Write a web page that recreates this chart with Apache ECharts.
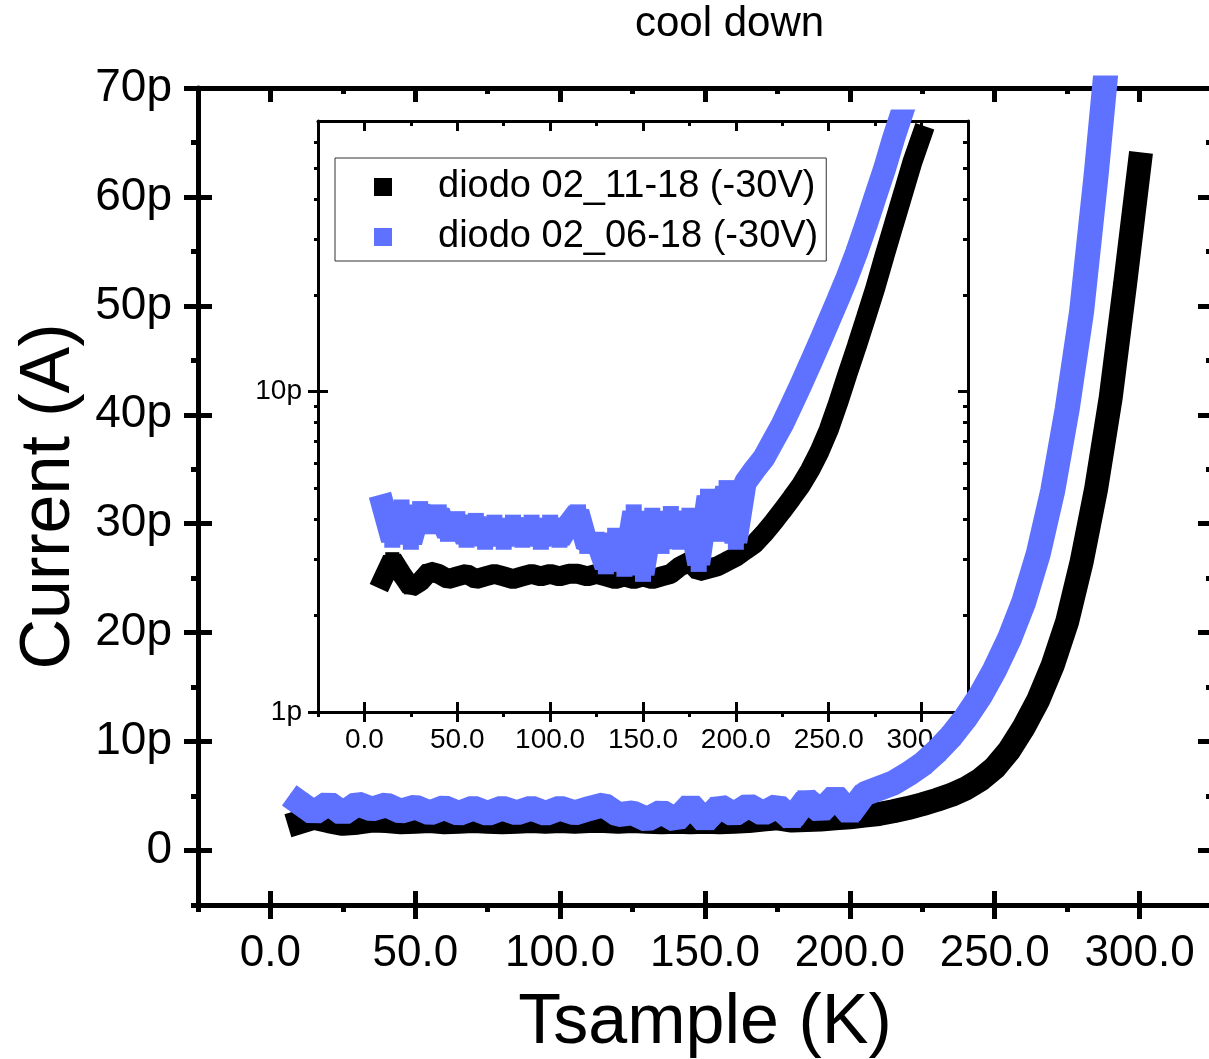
<!DOCTYPE html>
<html>
<head>
	<meta charset="utf-8">
</head>
<body style="margin: 0">
<div id="container" style="width: 1209px; height: 1059px"></div>
<script type="text/javascript" src="https://cdn.jsdelivr.net/npm/echarts@6/dist/echarts.min.js"></script>
<script type="text/javascript">
    // temperature (K) and current (pA)
    var tempK = [10, 15, 20, 25, 30, 35, 40, 45, 50, 55, 60, 65, 70, 75, 80, 85, 90, 95, 100,
        105, 110, 115, 120, 125, 130, 135, 140, 145, 150, 155, 160, 165, 170, 175, 180, 185, 190, 195, 200,
        205, 210, 215, 220, 225, 230, 235, 240, 245, 250, 255, 260, 265, 270, 275, 280, 285, 290, 295, 300];
    var diodo1118 = [2.6, 3.0, 2.7, 2.45, 2.55, 2.75, 2.7, 2.6, 2.65, 2.7, 2.6, 2.65, 2.7, 2.65, 2.6, 2.65, 2.7, 2.65, 2.7,
        2.65, 2.7, 2.7, 2.65, 2.7, 2.65, 2.6, 2.65, 2.6, 2.65, 2.6, 2.65, 2.7, 2.85, 2.95, 2.75, 2.8, 2.85, 2.95, 3.05,
        3.2, 3.35, 3.6, 3.9, 4.25, 4.65, 5.1, 5.7, 6.5, 7.6, 9.2, 11.3, 13.8, 17.0, 21.0, 26.5, 33.2, 41.5, 52.0, 63.0];
    var diodo0618 = [4.4, 3.45, 4.35, 3.4, 4.3, 3.8, 4.2, 3.6, 4.0, 3.45, 3.95, 3.4, 3.9, 3.4, 3.9, 3.45, 3.9, 3.4, 3.9,
        3.45, 3.85, 4.2, 3.3, 3.45, 2.85, 3.55, 2.8, 4.2, 2.7, 4.1, 3.3, 4.15, 3.4, 4.1, 2.9, 4.7, 3.6, 5.0, 3.4,
        5.2, 5.7, 6.2, 7.0, 7.9, 9.1, 10.5, 12.2, 14.2, 16.6, 19.4, 22.8, 27.2, 33.0, 40.5, 49.5, 62.0, 76.0, 92.0, 112.0];
    var names = ['diodo 02_11-18 (-30V)', 'diodo 02_06-18 (-30V)'];
    var colors = ['#000000', '#5f72ff'];

    var xMajor = [0, 50, 100, 150, 200, 250, 300];
    var xMinor = [-25, 25, 75, 125, 175, 225, 275, 325];
    var yMajor = [0, 10, 20, 30, 40, 50, 60, 70];
    var yMinor = [-5, 5, 15, 25, 35, 45, 55, 65];
    var insetMajor = [1, 10];
    var insetMinor = [2, 3, 4, 5, 6, 7, 8, 9, 20, 30, 40, 50, 60];

    var font = 'Liberation Sans, Arial, sans-serif';

    function pairs(ys) {
        return tempK.map(function (t, i) { return [t, ys[i]]; });
    }

    // decoration axis: only ticks (and optionally line / labels)
    function deco(dim, grid, pos, ticks, len, inside, width, extra) {
        var a = {
            type: 'value', gridIndex: grid, position: pos,
            splitLine: {show: false},
            axisLine: {show: false, onZero: false},
            axisTick: {show: true, inside: inside, length: len, customValues: ticks,
                lineStyle: {color: '#000', width: width}},
            axisLabel: {show: false}
        };
        if (dim === 'x') { a.min = -25; a.max = 325; }
        return Object.assign(a, extra || {});
    }

    var insetLogY = {min: 0, max: Math.log10(70)};

    var xAxes = [
        // main
        deco('x', 0, 'bottom', xMajor, 14, false, 5, {
            axisLine: {show: true, onZero: false, lineStyle: {color: '#000', width: 5}},
            axisLabel: {show: true, customValues: xMajor, fontSize: 44, fontFamily: font, color: '#000', margin: 27,
                formatter: function (v) { return v.toFixed(1); }},
            name: 'Tsample (K)', nameLocation: 'middle', nameGap: 84,
            nameTextStyle: {fontSize: 70, fontFamily: font, color: '#000'}
        }),
        deco('x', 0, 'bottom', xMajor, 14, true, 5),
        deco('x', 0, 'bottom', xMinor, 7, false, 5),
        deco('x', 0, 'top', xMajor, 14, true, 5, {
            axisLine: {show: true, onZero: false, lineStyle: {color: '#000', width: 5}}
        }),
        deco('x', 0, 'top', xMinor, 6, true, 5),
        // inset
        deco('x', 1, 'bottom', xMajor, 10, false, 3, {
            axisLine: {show: true, onZero: false, lineStyle: {color: '#000', width: 3}},
            axisLabel: {show: true, customValues: xMajor, fontSize: 28, fontFamily: font, color: '#000', margin: 14,
                formatter: function (v) { return v.toFixed(1); }}
        }),
        deco('x', 1, 'bottom', xMajor, 10, true, 3),
        deco('x', 1, 'bottom', xMinor, 5, false, 3),
        deco('x', 1, 'top', xMajor, 10, true, 3, {
            axisLine: {show: true, onZero: false, lineStyle: {color: '#000', width: 3}}
        }),
        deco('x', 1, 'top', xMinor, 5, true, 3)
    ];

    var yAxes = [
        // main
        deco('y', 0, 'left', yMajor, 14, false, 5, {
            min: -5, max: 70,
            axisLine: {show: true, onZero: false, lineStyle: {color: '#000', width: 5}},
            axisLabel: {show: true, customValues: yMajor, fontSize: 46, fontFamily: font, color: '#000', margin: 26,
                formatter: function (v) { return v === 0 ? '0' : v + 'p'; }},
            name: 'Current (A)', nameLocation: 'middle', nameGap: 106,
            nameTextStyle: {fontSize: 70, fontFamily: font, color: '#000'}
        }),
        deco('y', 0, 'left', yMajor, 14, true, 5, {min: -5, max: 70}),
        deco('y', 0, 'left', yMinor, 7, false, 5, {min: -5, max: 70}),
        deco('y', 0, 'right', yMajor, 14, true, 5, {min: -5, max: 70,
            axisLine: {show: true, onZero: false, lineStyle: {color: '#000', width: 5}}}),
        deco('y', 0, 'right', yMinor, 6, true, 5, {min: -5, max: 70}),
        // inset, log scale for the data
        {
            type: 'log', gridIndex: 1, position: 'left', logBase: 10, min: 1, max: 70,
            splitLine: {show: false},
            axisLine: {show: true, onZero: false, lineStyle: {color: '#000', width: 3}},
            axisTick: {show: false},
            axisLabel: {fontSize: 28, fontFamily: font, color: '#000', margin: 16,
                formatter: function (v) {
                    var r = Math.round(v);
                    return (r === 1 || r === 10) ? r + 'p' : '';
                }}
        },
        deco('y', 1, 'left', insetMajor.map(Math.log10), 10, false, 3, insetLogY),
        deco('y', 1, 'left', insetMajor.map(Math.log10), 10, true, 3, insetLogY),
        deco('y', 1, 'left', insetMinor.map(Math.log10), 4, false, 3, insetLogY),
        deco('y', 1, 'right', insetMajor.map(Math.log10), 10, true, 3, Object.assign({
            axisLine: {show: true, onZero: false, lineStyle: {color: '#000', width: 3}}}, insetLogY)),
        deco('y', 1, 'right', insetMinor.map(Math.log10), 5, true, 3, insetLogY)
    ];

    function line(i, grid, ys, w) {
        var xi = grid === 0 ? 0 : 5;
        return {
            type: 'line', name: names[i], xAxisIndex: xi, yAxisIndex: xi,
            z: 2 + i,
            data: pairs(ys), clip: true,
            showSymbol: true, symbol: 'rect', symbolSize: Math.round(w * 0.7),
            itemStyle: {color: colors[i], opacity: 1},
            lineStyle: {color: colors[i], width: w, cap: 'square', join: 'bevel'}
        };
    }

    var dom = document.getElementById('container');
    var myChart = echarts.init(dom);
    var option = {
        animation: false,
        backgroundColor: '#fff',
        title: {
            text: 'cool down', left: 635, top: 3, padding: 0,
            textStyle: {fontSize: 42, fontWeight: 'normal', fontFamily: font, color: '#000'}
        },
        legend: {
            data: names, orient: 'vertical', left: 335, top: 158, z: 10,
            padding: [10, 8, 5, 39], itemGap: 12, itemWidth: 18, itemHeight: 18, icon: 'rect',
            borderColor: '#333', borderWidth: 1,
            textStyle: {fontSize: 38, fontFamily: font, color: '#000', padding: [0, 0, 0, 41]}
        },
        grid: [
            {left: 198, top: 88, right: -3, bottom: 154, outerBoundsMode: 'none'},
            {left: 318, top: 121, right: 241, bottom: 347, outerBoundsMode: 'none'}
        ],
        xAxis: xAxes,
        yAxis: yAxes,
        series: [
            line(0, 0, diodo1118, 24),
            line(1, 0, diodo0618, 25),
            line(0, 1, diodo1118, 20),
            line(1, 1, diodo0618, 23)
        ]
    };
    myChart.setOption(option);
</script>
</body>
</html>
